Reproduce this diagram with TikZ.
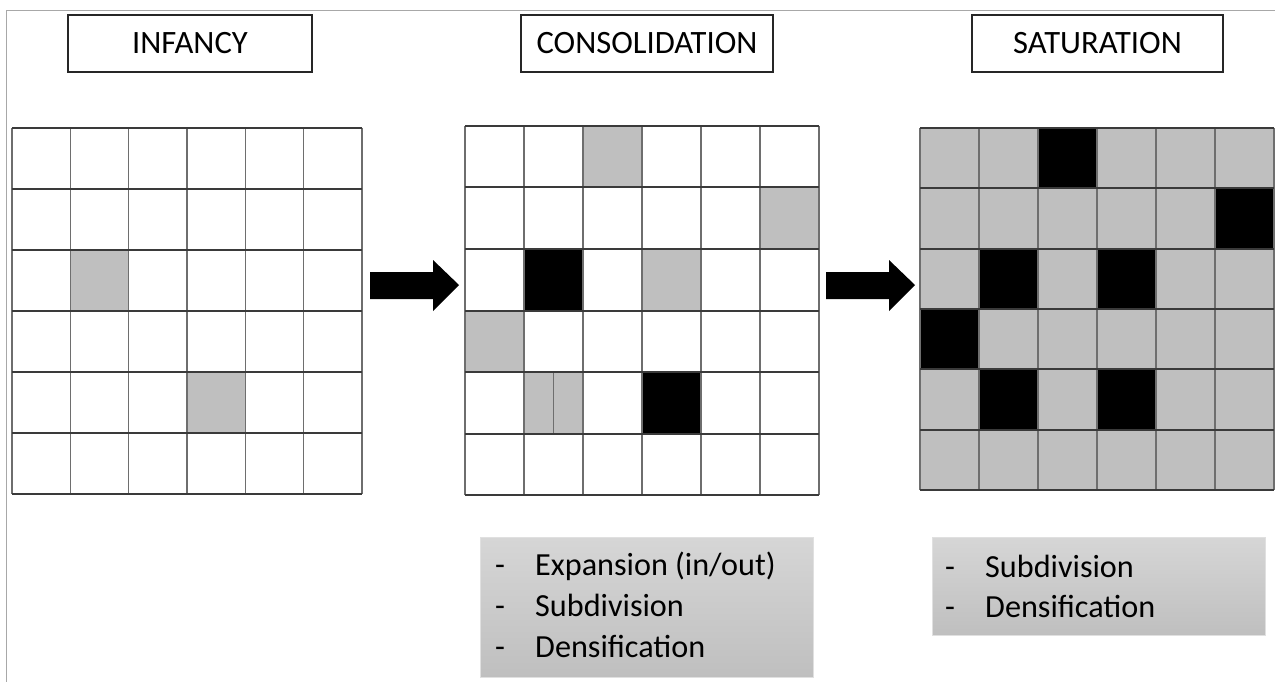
\documentclass[tikz,border=0pt]{standalone}
\usepackage{fontspec}
\setmainfont{Carlito}
\definecolor{cellgray}{HTML}{BFBFBF}
\definecolor{boxtop}{HTML}{D6D6D6}
\definecolor{framegray}{HTML}{A8A8A8}
\definecolor{hline}{HTML}{3A3A3A}
\definecolor{vline}{HTML}{6E6E6E}
\begin{document}
\begin{tikzpicture}[x=1pt,y=-1pt,
  stagebox/.style={draw=black!85, line width=1.4pt, inner sep=0pt,
    minimum height=57pt, font=\fontsize{32.6}{38}\selectfont},
  listbox/.style={top color=boxtop, bottom color=cellgray, draw=black!12,
    line width=0.6pt, inner sep=0pt, anchor=north west},
  listtext/.style={anchor=base west, inner sep=0pt, font=\fontsize{32.2}{38}\selectfont},
  gcell/.style={fill=cellgray},
  bcell/.style={fill=black},
  hrule/.style={draw=hline, line width=2pt},
  vrule/.style={draw=vline, line width=1.5pt},
  blockarrow/.style={fill=black}]
\useasboundingbox (0,0) rectangle (1275,682);

% page frame (top and left edges)
\draw[framegray, line width=1.5pt] (1275,10.5) -- (6.5,10.5) -- (6.5,682);

% stage titles
\node[stagebox, minimum width=244pt] (infancy) at (190,43.5) {INFANCY};
\node[stagebox, minimum width=252pt] (consolidation) at (647,43.5) {CONSOLIDATION};
\node[stagebox, minimum width=251pt] (saturation) at (1097.5,43.5) {SATURATION};

% grid 1: infancy
\begin{scope}[shift={(12,128)}, x=58.33pt, y=-61pt]
  \fill[gcell] (1,2) rectangle (2,3);
  \fill[gcell] (3,4) rectangle (4,5);
  \foreach \c in {0,...,6} \draw[vrule] (\c,0) -- (\c,6);
  \foreach \r in {0,...,6} \draw[hrule] (0,\r) -- (6,\r);
  \coordinate (g1e) at (6,3);
\end{scope}

% grid 2: consolidation
\begin{scope}[shift={(465,126)}, x=59pt, y=-61.5pt]
  \foreach \c/\r in {2/0,5/1,3/2,0/3,1/4} \fill[gcell] (\c,\r) rectangle ++(1,1);
  \foreach \c/\r in {1/2,3/4} \fill[bcell] (\c,\r) rectangle ++(1,1);
  \foreach \c in {0,...,6} \draw[vrule] (\c,0) -- (\c,6);
  \draw[vrule] (1.5,4) -- (1.5,5);
  \foreach \r in {0,...,6} \draw[hrule] (0,\r) -- (6,\r);
  \coordinate (g2w) at (0,3);
  \coordinate (g2e) at (6,3);
\end{scope}

% grid 3: saturation
\begin{scope}[shift={(920,128)}, x=59pt, y=-60.33pt]
  \fill[gcell] (0,0) rectangle (6,6);
  \foreach \c/\r in {2/0,5/1,1/2,3/2,0/3,1/4,3/4} \fill[bcell] (\c,\r) rectangle ++(1,1);
  \foreach \c in {0,...,6} \draw[vrule] (\c,0) -- (\c,6);
  \foreach \r in {0,...,6} \draw[hrule] (0,\r) -- (6,\r);
  \coordinate (g3w) at (0,3);
\end{scope}

% block arrows between stages
\coordinate (a1) at (370,312);
\coordinate (a2) at (826,312);
\foreach \a in {a1,a2}
  \fill[blockarrow] ([yshift=13pt]\a) -- ++(63,0) -- ++(0,12) -- ++(26,-26)
    -- ++(-26,-25) -- ++(0,12) -- ++(-63,0) -- cycle;

% process lists
\node[listbox, minimum width=333pt, minimum height=140pt] (list2) at (480,537) {};
\node[listtext] (l2d1) at (495,575) {-};
\node[listtext] (l2t1) at (535,575) {Expansion (in/out)};
\node[listtext] (l2d2) at (495,616) {-};
\node[listtext] (l2t2) at (535,616) {Subdivision};
\node[listtext] (l2d3) at (495,657) {-};
\node[listtext] (l2t3) at (535,657) {Densification};

\node[listbox, minimum width=333pt, minimum height=98pt] (list3) at (932,537) {};
\node[listtext] (l3d1) at (945,577) {-};
\node[listtext] (l3t1) at (985,577) {Subdivision};
\node[listtext] (l3d2) at (945,617) {-};
\node[listtext] (l3t2) at (985,617) {Densification};
\end{tikzpicture}
\end{document}
